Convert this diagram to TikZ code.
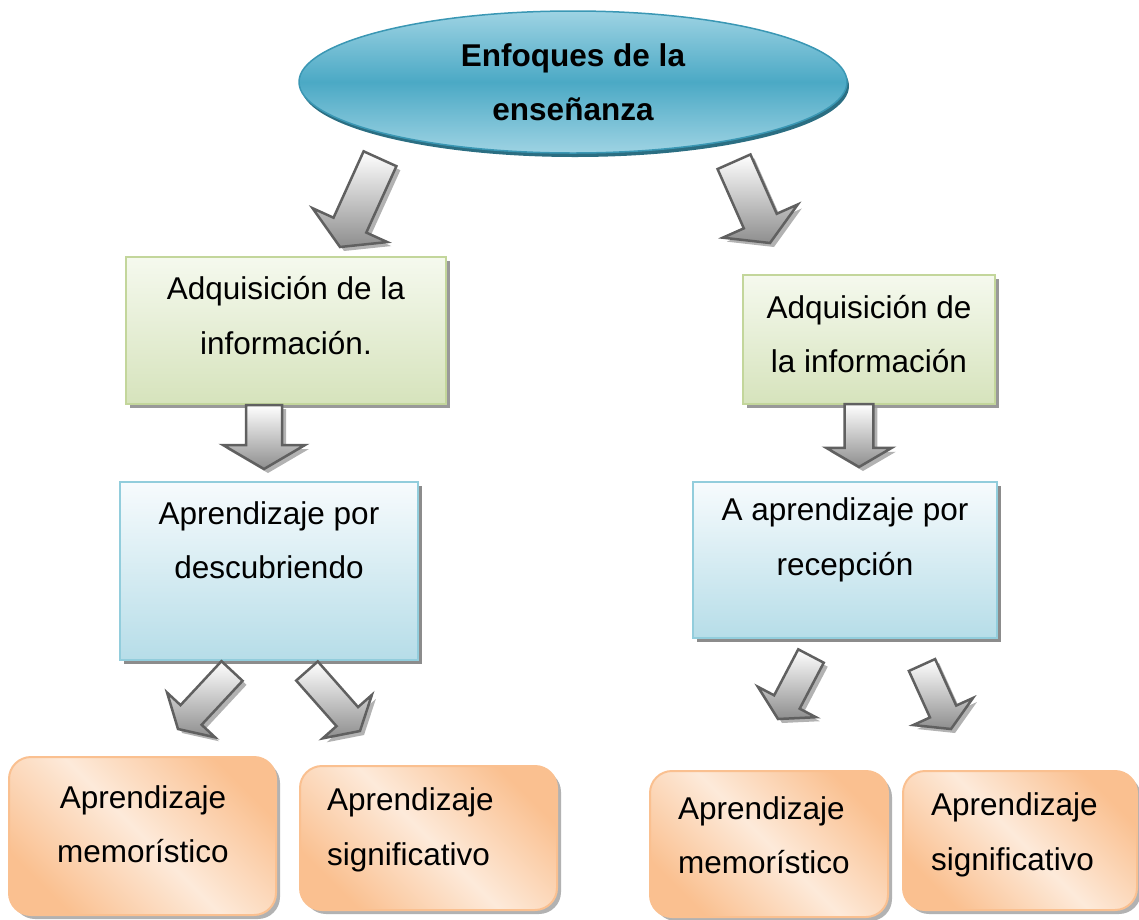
\documentclass[tikz,border=0pt]{standalone}
\usepackage{fontspec}
\setmainfont{Liberation Sans}
\usepackage{tikz}
\definecolor{tealtop}{HTML}{9ED3E3}
\definecolor{tealmid}{HTML}{4BA9C5}
\definecolor{tealline}{HTML}{3A97B4}
\definecolor{tealshadow}{HTML}{2B6E82}
\definecolor{greentop}{HTML}{F5F9EE}
\definecolor{greenbot}{HTML}{D6E3BC}
\definecolor{greenline}{HTML}{C3D69B}
\definecolor{bluetop}{HTML}{F7FBFD}
\definecolor{bluebot}{HTML}{B6DDE8}
\definecolor{blueline}{HTML}{92CDDC}
\definecolor{peach}{HTML}{FAC090}
\definecolor{peachlight}{HTML}{FDEADA}
\definecolor{arrowline}{HTML}{606060}
\definecolor{arrowbot}{HTML}{8E8E8E}
\usetikzlibrary{shapes.geometric,shadows,calc}

\newcommand\bigfont{\fontsize{31.5pt}{54.5pt}\selectfont}

\tikzset{
  boxshadow/.style={drop shadow={shadow xshift=4pt, shadow yshift=-4pt, fill=#1, opacity=1}},
  title/.style={ellipse, draw=tealline, line width=1.5pt, top color=tealtop, bottom color=tealtop, middle color=tealmid,
    minimum width=548pt, minimum height=142pt, inner sep=0pt, font=\bigfont\bfseries, align=center,
    drop shadow={shadow xshift=2pt, shadow yshift=-4pt, fill=tealshadow, opacity=1}},
  greenbox/.style={rectangle, draw=greenline, line width=2pt, top color=greentop, bottom color=greenbot, boxshadow=black!40},
  bluebox/.style={rectangle, draw=blueline, line width=2pt, top color=bluetop, bottom color=bluebot, boxshadow=black!45},
  peachbox/.style={rectangle, rounded corners=22pt, draw=peach, line width=2pt, top color=peach, bottom color=peach,
    middle color=peachlight, shading angle=135, boxshadow=black!30},
  txt/.style={font=\bigfont, align=center, inner sep=0pt},
  fatarrow/.style={draw=arrowline, line width=2.5pt, line join=miter, top color=white, bottom color=arrowbot,
    drop shadow={shadow xshift=4pt, shadow yshift=-4pt, fill=black!30, opacity=1}},
}

\newcommand\shaftw{18pt}
\newcommand\headw{41pt}
\newcommand\headlen{24pt}
% block arrow from #2 to #3, #1 = size
\newcommand\blkarrow[3][1]{%
  \coordinate (ar-tail) at (#2);
  \coordinate (ar-tip) at (#3);
  \coordinate (ar-base) at ($(ar-tip)!#1*\headlen!(ar-tail)$);
  \path[fatarrow] ($(ar-tail)!#1*\shaftw!90:(ar-tip)$) -- ($(ar-base)!#1*\shaftw!90:(ar-tip)$)
    -- ($(ar-base)!#1*\headw!90:(ar-tip)$) -- (ar-tip) -- ($(ar-base)!#1*\headw!-90:(ar-tip)$)
    -- ($(ar-base)!#1*\shaftw!-90:(ar-tip)$) -- ($(ar-tail)!#1*\shaftw!-90:(ar-tip)$) -- cycle;
}

\begin{document}
\begin{tikzpicture}[x=1pt, y=1pt]
            \useasboundingbox (0,0) rectangle (1139,-919);

            % Title
            \node[title] (enf) at (573,-82) {Enfoques de la\\enseñanza};

            % Adquisicion
            \node[greenbox, minimum width=320pt, minimum height=147pt] (adq1) at (286,-330.5) {};
            \node[txt] (adq1t) at (286,-315.5) {Adquisición de la\\información.};
            \node[greenbox, minimum width=252pt, minimum height=129pt] (adq2) at (869,-339.5) {};
            \node[txt] (adq2t) at (869,-334) {Adquisición de\\la información};

            % Aprendizaje
            \node[bluebox, minimum width=298pt, minimum height=178pt] (apr1) at (269,-571) {};
            \node[txt] (apr1t) at (269,-540) {Aprendizaje por\\descubriendo};
            \node[bluebox, minimum width=304pt, minimum height=156pt] (apr2) at (845,-560) {};
            \node[txt] (apr2t) at (845,-540) {A aprendizaje por\\recepción};

            % Tipos
            \node[peachbox, minimum width=267pt, minimum height=158pt] (mem1) at (142.5,-836) {};
            \node[txt] (mem1t) at (143,-824) {Aprendizaje\\memorístico};
            \node[peachbox, minimum width=257pt, minimum height=144pt] (sig1) at (428.5,-838) {};
            \node[txt, align=left, anchor=west] (sig1t) at (327,-830) {Aprendizaje\\significativo};
            \node[peachbox, minimum width=238pt, minimum height=146pt] (mem2) at (769,-844) {};
            \node[txt, align=left, anchor=west] (mem2t) at (678,-835) {Aprendizaje\\memorístico};
            \node[peachbox, minimum width=234pt, minimum height=139pt] (sig2) at (1020,-840.5) {};
            \node[txt, align=left, anchor=west] (sig2t) at (931,-835) {Aprendizaje\\significativo};

            % Arrows
            \blkarrow{$(enf.south)+(-193,-5)$}{$(adq1.north)+(54,9)$}
            \blkarrow{$(enf.south)+(161,-8)$}{$(adq2.north)+(-99,31)$}
            \blkarrow{$(adq1.south)+(-22,0)$}{$(apr1.north)+(-5,12)$}
            \blkarrow[0.8]{$(adq2.south)+(-10,1)$}{$(apr2.north)+(14,14)$}
            \blkarrow[0.8]{$(apr1.south)+(-37,-10)$}{$(mem1.north)+(35.5,27)$}
            \blkarrow[0.8]{$(apr1.south)+(38,-10)$}{$(sig1.north)+(-68.5,34)$}
            \blkarrow[0.8]{$(apr2.south)+(-34,-17)$}{$(mem2.north)+(9,51)$}
            \blkarrow[0.8]{$(apr2.south)+(77,-26)$}{$(sig2.north)+(-69,41)$}

\end{tikzpicture}
\end{document}
